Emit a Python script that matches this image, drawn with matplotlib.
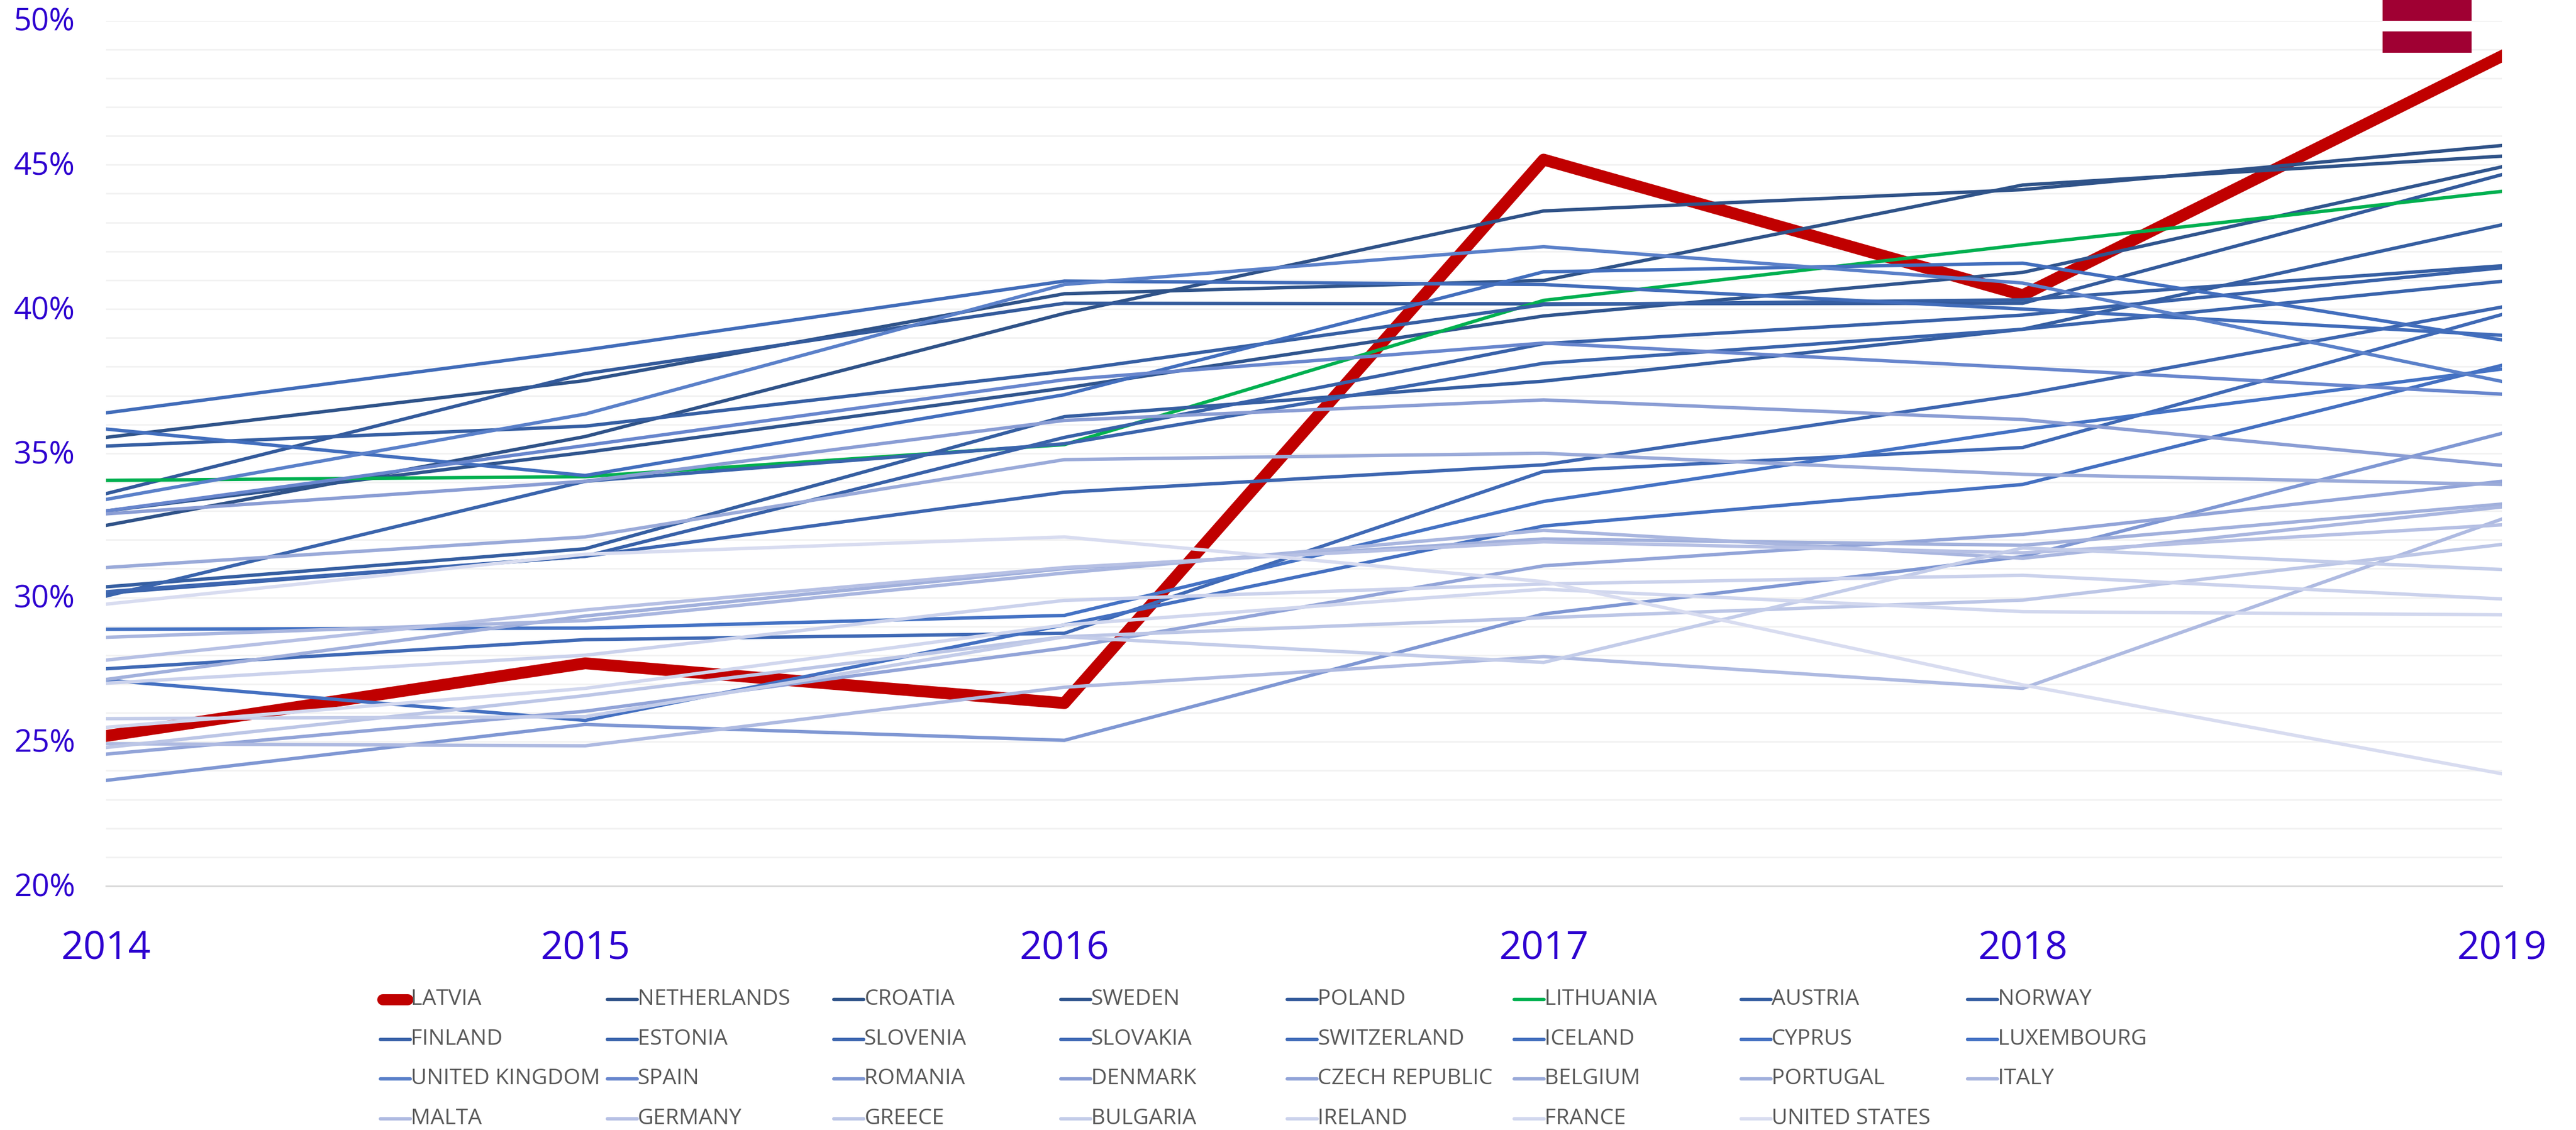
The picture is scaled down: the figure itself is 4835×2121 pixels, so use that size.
import matplotlib
matplotlib.use('Agg')
import matplotlib.pyplot as plt
from matplotlib.lines import Line2D
from matplotlib.patches import Rectangle
from matplotlib.transforms import ScaledTranslation

plt.rcParams['font.family'] = ['Open Sans', 'DejaVu Sans']

years = [2014, 2015, 2016, 2017, 2018, 2019]

latvia = [25.2, 27.72, 26.34, 45.18, 40.48, 48.77]
netherlands = [32.5, 35.58, 39.85, 43.4, 44.14, 45.67]
croatia = [35.55, 37.52, 40.53, 40.99, 44.3, 45.3]
sweden = [33.0, 35.03, 37.26, 39.76, 41.27, 44.93]
poland = [33.6, 37.76, 40.2, 40.18, 40.2, 44.66]
lithuania = [34.06, 34.19, 35.3, 40.3, 42.23, 44.08]
austria = [30.37, 31.69, 36.27, 37.5, 39.3, 42.92]
norway = [35.25, 35.94, 37.84, 40.15, 40.32, 41.5]
finland = [30.15, 31.43, 35.55, 38.8, 39.79, 41.43]
estonia = [30.05, 34.03, 35.33, 38.12, 39.3, 40.96]
slovenia = [30.2, 31.43, 33.65, 34.6, 37.04, 40.07]
slovakia = [27.53, 28.54, 28.76, 34.37, 35.2, 39.81]
switzerland = [36.4, 38.58, 40.97, 40.85, 40.0, 39.09]
iceland = [35.84, 34.23, 37.03, 41.29, 41.59, 38.93]
cyprus = [27.14, 25.74, 29.05, 32.48, 33.92, 38.05]
luxembourg = [28.9, 28.94, 29.38, 33.33, 35.82, 37.92]
uk = [33.4, 36.36, 40.85, 42.16, 40.9, 37.49]
spain = [33.0, 35.27, 37.55, 38.82, 37.96, 37.05]
romania = [23.66, 25.6, 25.05, 29.43, 31.42, 35.69]
denmark = [32.9, 34.03, 36.14, 36.85, 36.17, 34.58]
czech = [24.57, 26.06, 28.25, 31.1, 32.19, 34.03]
belgium = [31.04, 32.1, 34.78, 35.0, 34.27, 33.92]
portugal = [27.16, 29.36, 31.0, 32.03, 31.81, 33.24]
italy = [28.62, 29.2, 30.85, 32.33, 31.36, 33.14]
malta = [24.93, 24.86, 26.89, 27.95, 26.85, 32.72]
germany = [27.83, 29.57, 31.04, 31.93, 31.55, 32.52]
greece = [24.8, 26.6, 28.64, 29.3, 29.91, 31.84]
bulgaria = [25.8, 25.87, 28.64, 27.75, 31.72, 30.97]
ireland = [27.03, 28.0, 29.9, 30.47, 30.77, 29.95]
france = [25.5, 26.85, 29.05, 30.29, 29.51, 29.4]
usa = [29.77, 31.5, 32.1, 30.55, 26.97, 23.89]

names = ['LATVIA', 'NETHERLANDS', 'CROATIA', 'SWEDEN', 'POLAND', 'LITHUANIA', 'AUSTRIA', 'NORWAY',
         'FINLAND', 'ESTONIA', 'SLOVENIA', 'SLOVAKIA', 'SWITZERLAND', 'ICELAND', 'CYPRUS', 'LUXEMBOURG',
         'UNITED KINGDOM', 'SPAIN', 'ROMANIA', 'DENMARK', 'CZECH REPUBLIC', 'BELGIUM', 'PORTUGAL', 'ITALY',
         'MALTA', 'GERMANY', 'GREECE', 'BULGARIA', 'IRELAND', 'FRANCE', 'UNITED STATES']
series = [latvia, netherlands, croatia, sweden, poland, lithuania, austria, norway,
          finland, estonia, slovenia, slovakia, switzerland, iceland, cyprus, luxembourg,
          uk, spain, romania, denmark, czech, belgium, portugal, italy,
          malta, germany, greece, bulgaria, ireland, france, usa]
colors = ['#c00000', '#2f5288', '#2f5389', '#30558e', '#335a9b', '#00b050', '#355ea1', '#365fa3',
          '#3861a8', '#3a64ac', '#3d66b0', '#3f69b5', '#416cb9', '#426ebd', '#4470c1', '#4472c4',
          '#5a80c9', '#6886cd', '#7f97d3', '#8a9dd4', '#92a4d8', '#9aaad9', '#a1b0dc', '#a9b6df',
          '#aebae1', '#b6c0e4', '#bcc6e6', '#c3cce9', '#cbd2ec', '#d1d7ee', '#d8dcf0']

W, H = 4835, 2121
LW = 4.6            # thin lines
LW_LATVIA = 16.0    # highlighted one

fig = plt.figure(figsize=(W / 100, H / 100), dpi=100)
ax = fig.add_axes([199 / W, 1 - 1663 / H, (4696 - 199) / W, (1663 - 38.6) / H])

for name, vals, col in zip(names, series, colors):
    lw = LW_LATVIA if name == 'LATVIA' else LW
    ax.plot(years, vals, color=col, lw=lw, solid_joinstyle='round', zorder=3)

ax.set_xlim(2014, 2019)
ax.set_ylim(20, 50)
ax.set_xticks(years)
ax.set_xticklabels([str(y) for y in years])
ax.set_yticks(range(20, 51, 5))
ax.set_yticklabels(['%d%%' % v for v in range(20, 51, 5)])
ax.set_yticks(range(20, 51), minor=True)
ax.grid(which='both', axis='y', color='#f2f2f2', lw=2.2, zorder=1)
ax.grid(False, axis='x')
ax.set_axisbelow(True)
ax.tick_params(which='both', length=0)
ax.tick_params(axis='x', labelsize=53, labelcolor='#2e00d0', pad=58)
ax.tick_params(axis='y', labelsize=42, labelcolor='#2e00d0', pad=42)
# y labels sit a touch above their gridlines
up = ScaledTranslation(0, 3 / 100, fig.dpi_scale_trans)
for t in ax.get_yticklabels():
    t.set_transform(t.get_transform() + up)
for s in ['top', 'left', 'right']:
    ax.spines[s].set_visible(False)
ax.spines['bottom'].set_color('#d9d9d9')
ax.spines['bottom'].set_linewidth(2.2)

# legend is laid out by hand, excel keeps the columns equal width
for i, (name, col) in enumerate(zip(names, colors)):
    row, c = i // 8, i % 8
    x0 = 771 + c * 425.6
    y0 = 1876 + row * 74.5
    if name == 'LATVIA':
        fig.add_artist(Line2D([(x0 - 53) / W, (x0 - 6) / W], [1 - y0 / H] * 2, color=col, lw=15,
                              solid_capstyle='round', transform=fig.transFigure))
    else:
        fig.add_artist(Line2D([(x0 - 57) / W, (x0 - 1) / W], [1 - y0 / H] * 2, color=col, lw=4.6,
                              solid_capstyle='round', transform=fig.transFigure))
    fig.text(x0 / W, 1 - y0 / H, name, color='#595959', fontsize=29.7, va='center', ha='left')

# flag in the top right corner
flag_parts = [(0, 38.5, '#a00033'), (38.5, 20.5, '#ffffff'), (59, 40, '#a00033')]
for top, height, col in flag_parts:
    fig.add_artist(Rectangle((4472 / W, 1 - (top + height) / H), 167 / W, height / H,
                             facecolor=col, edgecolor='none', transform=fig.transFigure, zorder=5))

fig.savefig('out.png', dpi=100, facecolor='white')
